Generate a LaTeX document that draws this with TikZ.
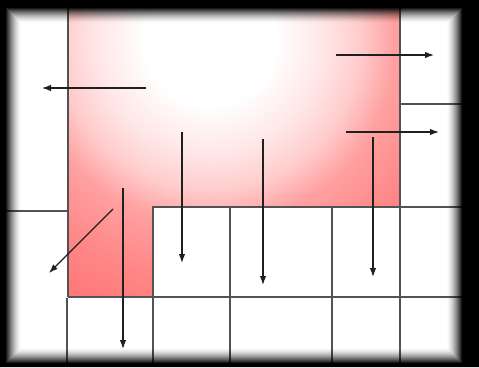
\documentclass[tikz,border=0pt]{standalone}
\usetikzlibrary{arrows.meta}
\pgfdeclareradialshading{redglow}{\pgfpoint{0bp}{0bp}}{color(0bp)=(white); color(5.4bp)=(white); color(9.6bp)=(red!10); color(12.5bp)=(red!20); color(15.4bp)=(red!37); color(20bp)=(red!47); color(24.2bp)=(red!53); color(50bp)=(red!53)}
\tikzset{
  gridline/.style={draw=black!68, line width=1.2pt},
  mov/.style={draw=black!88, line width=1.2pt, -{Latex[length=9pt,width=6.5pt]}},
}
\begin{document}
\begin{tikzpicture}[x=1pt,y=-1pt]
\useasboundingbox (0,0) rectangle (479,367);
\fill[white] (0,0) rectangle (479,367);
% red region
\begin{scope}
\clip[rounded corners=2pt] (68,-5) -- (400,-5) -- (400,207) -- (153,207) -- (153,297) -- (68,297) -- cycle;
\fill[red!53] (60,-10) rectangle (410,300);
\shade[shading=redglow] (210,40) circle[radius=300pt];
\end{scope}
% grid
\draw[gridline] (68,0) -- (68,297);
\draw[gridline] (0,211) -- (68,211);
\draw[gridline] (153,367) -- (153,207) -- (470,207);
\draw[gridline] (68,297) -- (470,297);
\draw[gridline] (67,298) -- (67,367);
\draw[gridline] (230,207) -- (230,367);
\draw[gridline] (332,207) -- (332,367);
\draw[gridline] (400,0) -- (400,367);
\draw[gridline] (400,104) -- (470,104);
% arrows
\coordinate (a1s) at (146,88); \coordinate (a1e) at (42,88);
\coordinate (a2s) at (336,55); \coordinate (a2e) at (434,55);
\coordinate (a3s) at (346,132); \coordinate (a3e) at (439,132);
\coordinate (a4s) at (182,132); \coordinate (a4e) at (182,263);
\coordinate (a5s) at (263,139); \coordinate (a5e) at (263,285);
\coordinate (a6s) at (373,137); \coordinate (a6e) at (373,277);
\coordinate (a7s) at (123,188); \coordinate (a7e) at (123,349);
\coordinate (a8s) at (113,209); \coordinate (a8e) at (49,273);
\foreach \i in {1,...,8} {\draw[mov] (a\i s) -- (a\i e);}
% dark blurred frame
\fill[black, even odd rule] (0,0) rectangle (479,367) (5,7) rectangle (463,364);
\foreach \k in {0,...,15} {
  \pgfmathsetmacro{\op}{(1-\k/16)^1.6}
  \draw[black, opacity=\op, line width=1.05pt] (5.5+\k,7.5+\k) rectangle (462.5-\k,363.5-\k);
}
\end{tikzpicture}
\end{document}
